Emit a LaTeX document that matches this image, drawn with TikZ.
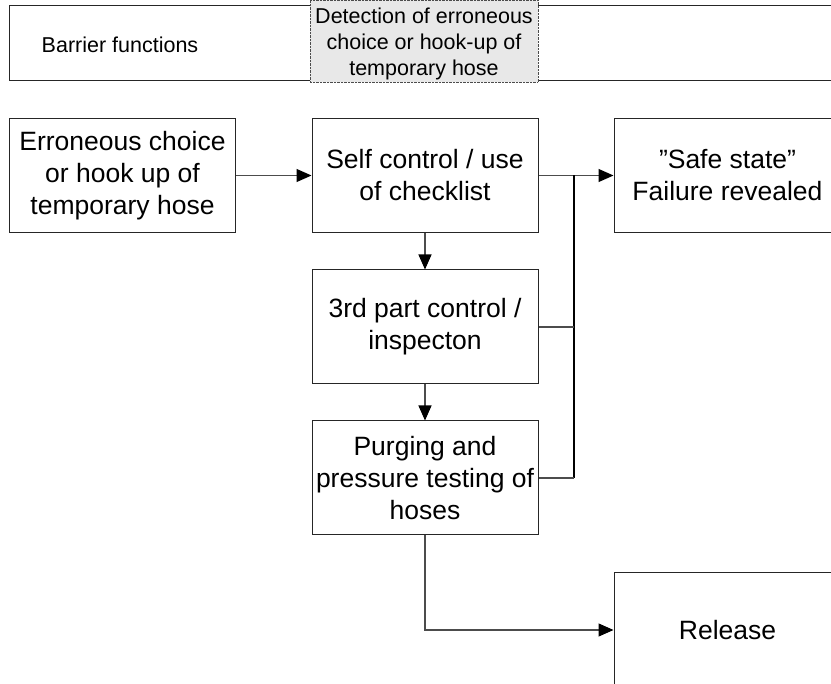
\documentclass[tikz,border=0pt]{standalone}
\usepackage{fontspec}
\setmainfont{Liberation Sans}
\usetikzlibrary{arrows.meta}
\begin{document}
\begin{tikzpicture}[x=1pt,y=-1pt,
  box/.style={draw=black!85,line width=1pt,rectangle,minimum width=226pt,minimum height=114pt,inner sep=0pt,align=center,font=\fontsize{26.5}{32}\selectfont},
  conn/.style={draw=black!70,line width=1.1pt},
  arr/.style={conn,-{Triangle[length=15pt,width=13pt,color=black]}},
  small/.style={font=\fontsize{21.5}{26}\selectfont,align=center}]
\clip (0,0) rectangle (831,684);
% top bar
\draw[black!85,line width=1pt] (9,6) -- (845,6) (9,6) -- (9,81) -- (845,81);
\node[small] (bf) at (120,45) {Barrier functions};
\node[small,draw=black!70,densely dotted,fill=black!9,minimum width=228pt,minimum height=82pt,inner sep=0pt] (det) at (424,41) {};
\node[small] (dett) at (424,43.5) {Detection of erroneous\\choice or hook-up of\\temporary hose};
% boxes
\node[box] (a) at (122.5,175.5) {Erroneous choice\\or hook up of\\temporary hose};
\node[box] (b) at (425,175.5) {Self control / use\\of checklist};
\node[box,minimum width=227pt] (c) at (727.5,175.5) {”Safe state”\\Failure revealed};
\node[box] (d) at (425,327) {3rd part control /\\inspecton};
\node[box] (e) at (425,478) {Purging and\\pressure testing of\\hoses};
\node[box,minimum width=227pt] (f) at (727.5,630) {Release};
% connectors
\coordinate (j1) at (574,175.5);
\coordinate (j2) at (574,327);
\coordinate (j3) at (574,478);
\draw[arr] (a.east) -- (b.west);
\draw[arr] (b.east) -- (c.west);
\draw[conn,draw=black] (j1) -- (j3);
\draw[conn] (d.east) -- (j2);
\draw[conn] (e.east) -- (j3);
\draw[arr] (b.south) -- (d.north);
\draw[arr] (d.south) -- (e.north);
\draw[arr] (e.south) |- (f.west);
\end{tikzpicture}
\end{document}
